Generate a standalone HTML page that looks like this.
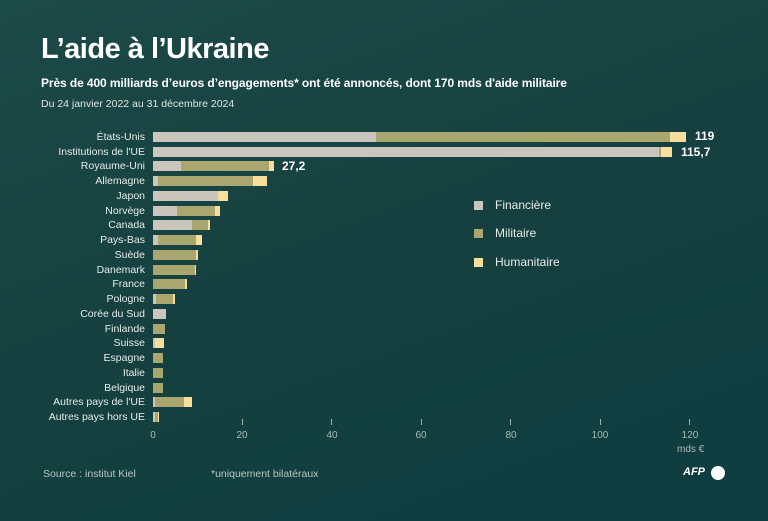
<!DOCTYPE html>
<html><head><meta charset="utf-8"><style>
body{margin:0;width:768px;height:521px;overflow:hidden;font-family:"Liberation Sans",sans-serif;}
#c{position:relative;width:768px;height:521px;background:linear-gradient(160deg,#1c4a47 0%,#15403f 50%,#0e3d40 100%);color:#fff;}
.a{position:absolute;white-space:nowrap}
.l{position:absolute;right:623px;font-size:10.5px;color:#e6ece9;line-height:12px}
.b{position:absolute;height:10px}
.f{background:#cbc6bd}.m{background:#aaa66f}.h{background:#f6df9c}
.t{position:absolute;font-size:10px;color:#a9bab6;width:30px;text-align:center;top:430px}
.k{position:absolute;width:1px;height:6px;background:#9fb3af;top:419px}
</style></head><body><div id="c">
<div class="a" style="left:41px;top:33px;font-size:29px;font-weight:bold;letter-spacing:-0.5px">L’aide à l’Ukraine</div>
<div class="a" style="left:41px;top:76px;font-size:12px;font-weight:bold;letter-spacing:-0.1px">Près de 400 milliards d’euros d’engagements* ont été annoncés, dont 170 mds d'aide militaire</div>
<div class="a" style="left:41px;top:98px;font-size:10.5px;color:#dfe6e3">Du 24 janvier 2022 au 31 décembre 2024</div>

<div class="l" style="top:131px">États-Unis</div>
<div class="l" style="top:146px">Institutions de l'UE</div>
<div class="l" style="top:160px">Royaume-Uni</div>
<div class="l" style="top:175px">Allemagne</div>
<div class="l" style="top:190px">Japon</div>
<div class="l" style="top:205px">Norvège</div>
<div class="l" style="top:219px">Canada</div>
<div class="l" style="top:234px">Pays-Bas</div>
<div class="l" style="top:249px">Suède</div>
<div class="l" style="top:264px">Danemark</div>
<div class="l" style="top:278px">France</div>
<div class="l" style="top:293px">Pologne</div>
<div class="l" style="top:308px">Corée du Sud</div>
<div class="l" style="top:323px">Finlande</div>
<div class="l" style="top:337px">Suisse</div>
<div class="l" style="top:352px">Espagne</div>
<div class="l" style="top:367px">Italie</div>
<div class="l" style="top:382px">Belgique</div>
<div class="l" style="top:396px">Autres pays de l'UE</div>
<div class="l" style="top:411px">Autres pays hors UE</div>

<div class="b f" style="top:132px;left:153px;width:223px"></div><div class="b m" style="top:132px;left:376px;width:294px"></div><div class="b h" style="top:132px;left:670px;width:16px"></div>
<div class="b f" style="top:147px;left:153px;width:506px"></div><div class="b m" style="top:147px;left:659px;width:2px"></div><div class="b h" style="top:147px;left:661px;width:11px"></div>
<div class="b f" style="top:161px;left:153px;width:28px"></div><div class="b m" style="top:161px;left:181px;width:88px"></div><div class="b h" style="top:161px;left:269px;width:5px"></div>
<div class="b f" style="top:176px;left:153px;width:5px"></div><div class="b m" style="top:176px;left:158px;width:95px"></div><div class="b h" style="top:176px;left:253px;width:14px"></div>
<div class="b f" style="top:191px;left:153px;width:65px"></div><div class="b h" style="top:191px;left:218px;width:10px"></div>
<div class="b f" style="top:206px;left:153px;width:24px"></div><div class="b m" style="top:206px;left:177px;width:38px"></div><div class="b h" style="top:206px;left:215px;width:5px"></div>
<div class="b f" style="top:220px;left:153px;width:39px"></div><div class="b m" style="top:220px;left:192px;width:16px"></div><div class="b h" style="top:220px;left:208px;width:2px"></div>
<div class="b f" style="top:235px;left:153px;width:5px"></div><div class="b m" style="top:235px;left:158px;width:38px"></div><div class="b h" style="top:235px;left:196px;width:6px"></div>
<div class="b m" style="top:250px;left:153px;width:43px"></div><div class="b h" style="top:250px;left:196px;width:2px"></div>
<div class="b m" style="top:265px;left:153px;width:42px"></div><div class="b h" style="top:265px;left:195px;width:1px"></div>
<div class="b m" style="top:279px;left:153px;width:32px"></div><div class="b h" style="top:279px;left:185px;width:2px"></div>
<div class="b f" style="top:294px;left:153px;width:3px"></div><div class="b m" style="top:294px;left:156px;width:17px"></div><div class="b h" style="top:294px;left:173px;width:2px"></div>
<div class="b f" style="top:309px;left:153px;width:13px"></div>
<div class="b m" style="top:324px;left:153px;width:12px"></div>
<div class="b f" style="top:338px;left:153px;width:2px"></div><div class="b h" style="top:338px;left:155px;width:9px"></div>
<div class="b m" style="top:353px;left:153px;width:10px"></div>
<div class="b m" style="top:368px;left:153px;width:10px"></div>
<div class="b m" style="top:383px;left:153px;width:10px"></div>
<div class="b f" style="top:397px;left:153px;width:2px"></div><div class="b m" style="top:397px;left:155px;width:29px"></div><div class="b h" style="top:397px;left:184px;width:8px"></div>
<div class="b f" style="top:412px;left:153px;width:2px"></div><div class="b m" style="top:412px;left:155px;width:3px"></div><div class="b h" style="top:412px;left:158px;width:1px"></div>

<div class="a" style="left:695px;top:129px;font-size:12px;font-weight:bold">119</div>
<div class="a" style="left:681px;top:145px;font-size:12px;font-weight:bold">115,7</div>
<div class="a" style="left:282px;top:159px;font-size:12px;font-weight:bold">27,2</div>

<div class="b f" style="left:474px;top:201px;width:9px;height:9px"></div><div class="a" style="left:495px;top:198px;font-size:12px;color:#e6ece9">Financière</div>
<div class="b m" style="left:474px;top:229px;width:9px;height:9px"></div><div class="a" style="left:495px;top:226px;font-size:12px;color:#e6ece9">Militaire</div>
<div class="b h" style="left:474px;top:258px;width:9px;height:9px"></div><div class="a" style="left:495px;top:255px;font-size:12px;color:#e6ece9">Humanitaire</div>

<div class="k" style="left:242px"></div><div class="k" style="left:331px"></div><div class="k" style="left:421px"></div><div class="k" style="left:510px"></div><div class="k" style="left:600px"></div><div class="k" style="left:689px"></div>
<div class="t" style="left:138px">0</div><div class="t" style="left:227px">20</div><div class="t" style="left:317px">40</div><div class="t" style="left:406px">60</div><div class="t" style="left:496px">80</div><div class="t" style="left:585px">100</div><div class="t" style="left:675px">120</div>
<div class="a" style="left:677px;top:444px;font-size:10px;color:#a9bab6">mds €</div>

<div class="a" style="left:43px;top:468px;font-size:10.5px;color:#b9c7c4">Source : institut Kiel</div>
<div class="a" style="left:211px;top:468px;font-size:10.5px;color:#b9c7c4">*uniquement bilatéraux</div>
<div class="a" style="left:683px;top:466px;font-size:11px;font-weight:bold;font-style:italic">AFP</div>
<div class="a" style="left:711px;top:466px;width:14px;height:14px;border-radius:50%;background:#fff"></div>
</div></body></html>
